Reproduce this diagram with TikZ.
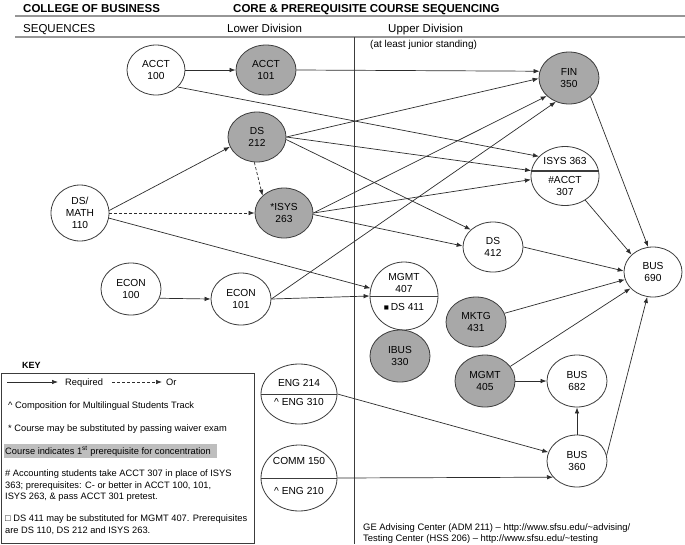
\documentclass[tikz,border=0pt]{standalone}
\usepackage{fontspec}
\setmainfont{Liberation Sans}
\usetikzlibrary{shapes.geometric,arrows.meta,calc}
\definecolor{nodefill}{RGB}{168,168,168}
\definecolor{nodeline}{RGB}{60,60,60}
\definecolor{edgecol}{RGB}{45,45,45}
\definecolor{rulecol}{RGB}{150,150,150}
\definecolor{hlfill}{RGB}{190,190,190}
\begin{document}
\begin{tikzpicture}[x=1pt,y=-1pt,
  course/.style={ellipse,draw=nodeline,line width=0.8pt,inner sep=0pt,align=center,font=\fontsize{10.2}{12}\selectfont,fill=white},
  shaded/.style={course,fill=nodefill},
  sz/.style 2 args={minimum width=#1pt,minimum height=#2pt},
  edge/.style={draw=edgecol,line width=0.7pt,-{Latex[length=6pt,width=4.5pt]}},
  oredge/.style={edge,dash pattern=on 3pt off 2pt},
  lbl/.style={inner sep=0pt,font=\fontsize{10.2}{12}\selectfont,align=center},
  keytxt/.style={inner sep=0pt,anchor=base west,font=\fontsize{9.3}{11.5}\selectfont},
  head/.style={inner sep=0pt,anchor=base west,font=\fontsize{11.5}{13}\selectfont},
  headb/.style={head,font=\fontsize{11.5}{13}\selectfont\bfseries},
  rulestyle/.style={draw=rulecol,line width=1.6pt},
  divline/.style={draw=nodeline,line width=0.8pt},
]
\useasboundingbox (0,0) rectangle (685,544);
\fill[white] (0,0) rectangle (685,544);

% header
\draw[rulestyle] (15,16) -- (685,16);
\draw[rulestyle] (15,37) -- (685,37);
\draw[divline] (354,37) -- (354,544);
\node[headb] (t1) at (23,12) {COLLEGE OF BUSINESS};
\node[headb] (t2) at (233,12) {CORE \& PREREQUISITE COURSE SEQUENCING};
\node[head] (t3) at (23,32) {SEQUENCES};
\node[head] (t4) at (227,32) {Lower Division};
\node[head] (t5) at (388,32) {Upper Division};
\node[head,font=\fontsize{10}{12}\selectfont] (t6) at (370,47) {(at least junior standing)};

% courses
\node[course,sz={58}{50}] (A100) at (156,70) {ACCT\\100};
\node[shaded,sz={60}{50}] (A101) at (266,70) {ACCT\\101};
\node[shaded,sz={58}{50}] (DS212) at (257,137) {DS\\212};
\node[shaded,sz={58}{50}] (IS263) at (284,213) {*ISYS\\263};
\node[course,sz={58}{56}] (DSM) at (80,213) {DS/\\MATH\\110};
\node[course,sz={60}{52}] (E100) at (131,289) {ECON\\100};
\node[course,sz={60}{52}] (E101) at (241,299) {ECON\\101};
\node[shaded,sz={60}{52}] (FIN) at (569,78) {FIN\\350};
\node[course,sz={68}{59}] (IS363) at (565,176) {};
\node[course,sz={60}{50}] (DS412) at (493,247) {DS\\412};
\node[course,sz={68}{68}] (M407) at (404,296) {};
\node[shaded,sz={60}{52}] (IBUS) at (400,356) {IBUS\\330};
\node[shaded,sz={60}{50}] (MKTG) at (476,322) {MKTG\\431};
\node[shaded,sz={60}{52}] (M405) at (485,381) {MGMT\\405};
\node[course,sz={60}{52}] (B682) at (577,381) {BUS\\682};
\node[course,sz={58}{50}] (B690) at (653,272) {BUS\\690};
\node[course,sz={60}{52}] (B360) at (577,461) {BUS\\360};
\node[course,sz={76}{60}] (ENG) at (299,394) {};
\node[course,sz={76}{66}] (COMM) at (299,478) {};

% split nodes
\draw[divline,line width=1.6pt] ($(IS363.west)+(0.5,-5)$) -- ($(IS363.east)+(-0.5,-5)$);
\draw[divline] (M407.west) -- (M407.east);
\draw[divline] (ENG.west) -- (ENG.east);
\draw[divline] (COMM.west) -- (COMM.east);
\node[lbl] (IS363a) at ($(IS363.center)+(0,-15)$) {ISYS 363};
\node[lbl] (IS363b) at ($(IS363.center)+(0,10)$) {\#ACCT\\307};
\node[lbl] (M407a) at ($(M407.center)+(0,-13)$) {MGMT\\407};
\node[lbl] (M407b) at ($(M407.center)+(0,11)$) {{\fontsize{8.5}{8.5}\selectfont ■}\,DS 411};
\node[lbl] (ENGa) at ($(ENG.center)+(0,-11)$) {ENG 214};
\node[lbl] (ENGb) at ($(ENG.center)+(0,8)$) {\textasciicircum\ ENG 310};
\node[lbl] (COMMa) at ($(COMM.center)+(0,-17)$) {COMM 150};
\node[lbl] (COMMb) at ($(COMM.center)+(0,13)$) {\textasciicircum\ ENG 210};

% connectors
\draw[edge] (A100.east) -- (A101.west);
\draw[edge] (A101.east) -- (FIN.167);
\draw[edge] (A100.-38) -- (IS363.143);
\draw[edge] (DS212.east) -- (FIN.181);
\draw[edge] (DS212.east) -- (IS363.171);
\draw[edge] (DS212.-5) -- (DS412.142);
\draw[edge] (IS263.east) -- (FIN.219);
\draw[edge] (IS263.east) -- (IS363.186);
\draw[edge] (IS263.-3) -- (DS412.178);
\draw[edge] (E101.east) -- (FIN.241);
\draw[edge] (E101.east) -- (M407.west);
\draw[edge] (E100.-18) -- (E101.west);
\draw[edge] (DSM.5) -- (DS212.200);
\draw[oredge] (DSM.east) -- (IS263.west);
\draw[oredge] (DS212.264) -- (IS263.141);
\draw[edge] (DSM.-10) -- (M407.167);
\draw[edge] (FIN.-41) -- (B690.101);
\draw[edge] (IS363.-50) -- (B690.141);
\draw[edge] (DS412.east) -- (B690.178);
\draw[edge] (MKTG.17) -- (B690.195);
\draw[edge] (M405.30) -- (B690.216);
\draw[edge] (M405.east) -- (B682.west);
\draw[edge] (B360.north) -- (B682.south);
\draw[edge] (B360.11) -- (B690.257);
\draw[edge] (ENG.east) -- (B360.163);
\draw[edge] (COMM.east) -- (B360.214);

% key
\node[keytxt,font=\fontsize{9}{11}\selectfont\bfseries] (keyt) at (22,368) {KEY};
\draw[divline] (1.5,373) rectangle (254,543);
\coordinate (kr1) at (7,382);
\coordinate (kr2) at (58,382);
\draw[edge] (kr1) -- (kr2);
\node[keytxt] (kreq) at (65,385.5) {Required};
\coordinate (ko1) at (112,382);
\coordinate (ko2) at (162,382);
\draw[oredge] (ko1) -- (ko2);
\node[keytxt] (kor) at (166,385.5) {Or};
\node[keytxt] (k1) at (8,408.5) {\textasciicircum\ Composition for Multilingual Students Track};
\node[keytxt] (k2) at (8,431.5) {* Course may be substituted by passing waiver exam};
\fill[hlfill] (4,444) rectangle (217,458);
\node[keytxt] (k3) at (5,454.5) {Course indicates 1\textsuperscript{st} prerequisite for concentration};
\node[keytxt] (k4a) at (5,476.5) {\# Accounting students take ACCT 307 in place of ISYS};
\node[keytxt] (k4b) at (5,488.5) {363; prerequisites: C- or better in ACCT 100, 101,};
\node[keytxt] (k4c) at (5,499.5) {ISYS 263, \& pass ACCT 301 pretest.};
\node[keytxt] (k5a) at (5,521.5) {□ DS 411 may be substituted for MGMT 407. Prerequisites};
\node[keytxt] (k5b) at (5,533.5) {are DS 110, DS 212 and ISYS 263.};

% footer
\node[keytxt,font=\fontsize{9.4}{11}\selectfont] (f1) at (363,530.5) {GE Advising Center (ADM 211) \textendash\ http://www.sfsu.edu/\textasciitilde advising/};
\node[keytxt,font=\fontsize{9.4}{11}\selectfont] (f2) at (363,541.5) {Testing Center (HSS 206) \textendash\ http://www.sfsu.edu/\textasciitilde testing};
\end{tikzpicture}
\end{document}
